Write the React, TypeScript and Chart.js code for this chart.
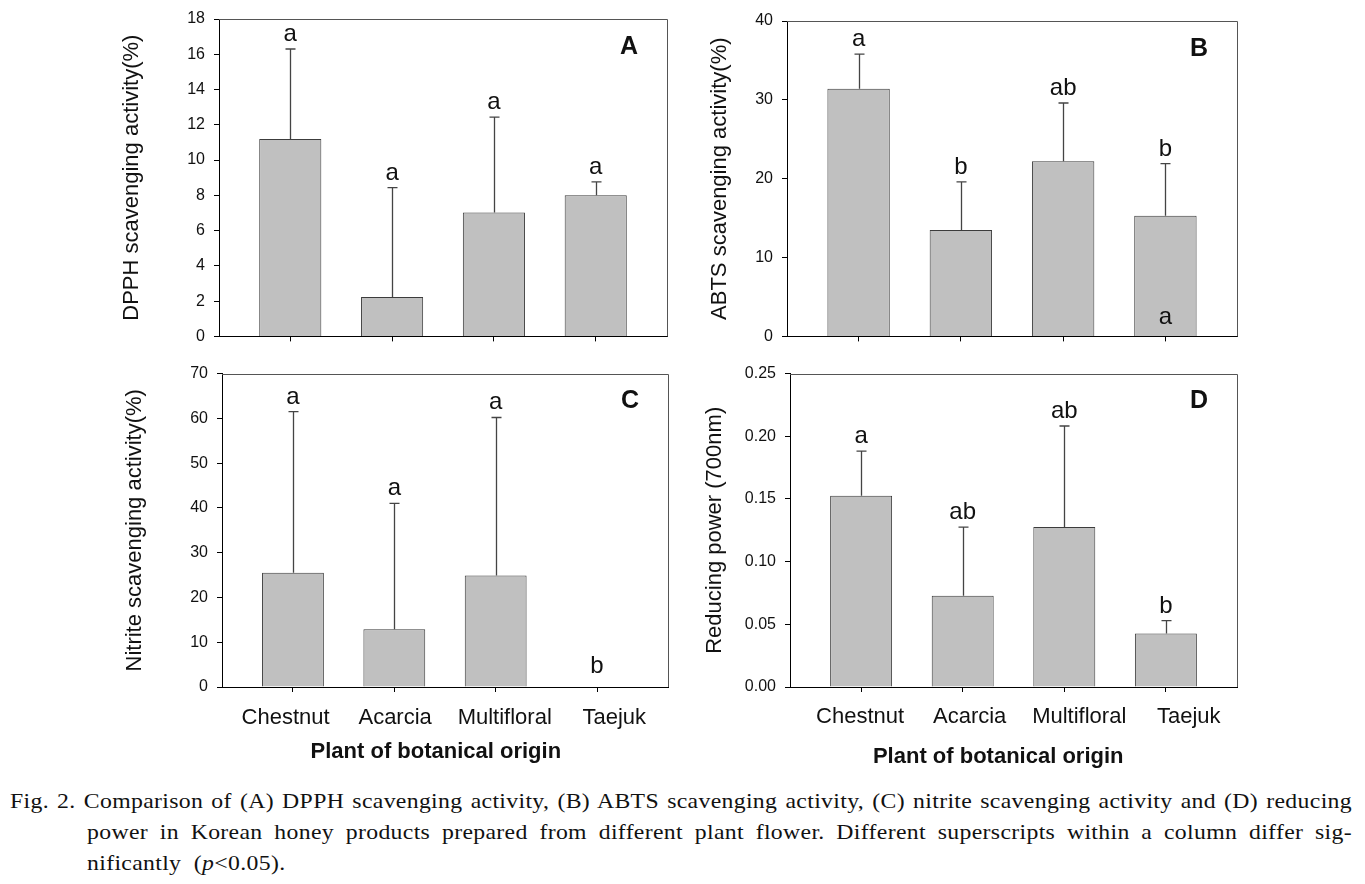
import React, { useEffect, useRef } from 'react';
import { Chart, registerables } from 'chart.js';

Chart.register(...registerables);
Chart.defaults.font.family = '"Liberation Sans", Arial, sans-serif';
Chart.defaults.color = '#111';

// ---------------- data ----------------
const categories = ['Chestnut', 'Acarcia', 'Multifloral', 'Taejuk'];

const dpphMean = [11.2, 2.24, 7.03, 8.0];
const dpphErr = [5.1, 6.2, 5.4, 0.76];
const dpphLetters = ['a', 'a', 'a', 'a'];

const abtsMean = [31.4, 13.5, 22.2, 15.3];
const abtsErr = [4.4, 6.1, 7.4, 6.6];
const abtsLetters = ['a', 'b', 'ab', 'b'];
const abtsInnerLetters = ['', '', '', 'a'];

const nitriteMean = [25.5, 12.9, 24.9, 0];
const nitriteErr = [36.0, 28.1, 35.3, 0];
const nitriteLetters = ['a', 'a', 'a', 'b'];

const reducingMean = [0.1526, 0.0728, 0.1276, 0.0426];
const reducingErr = [0.0356, 0.0548, 0.0806, 0.0104];
const reducingLetters = ['a', 'ab', 'ab', 'b'];

const dpphTicks = { max: 18, step: 2 };
const abtsTicks = { max: 40, step: 10 };
const nitriteTicks = { max: 70, step: 10 };
const reducingTicks = { max: 0.25, step: 0.05 };

const xTitle = 'Plant of botanical origin';

// ---------------- plugin ----------------
function makeDecor(means: number[], errs: number[], letters: string[], inner: string[] | null, panel: string) {
  return {
    id: 'decor_' + panel,
    beforeDatasetsDraw(chart: any) {
      const { ctx, chartArea: a } = chart;
      ctx.save();
      ctx.strokeStyle = '#555';
      ctx.lineWidth = 1;
      ctx.beginPath();
      ctx.moveTo(a.left, Math.round(a.top) + 0.5);
      ctx.lineTo(Math.round(a.right) + 0.5, Math.round(a.top) + 0.5);
      ctx.lineTo(Math.round(a.right) + 0.5, a.bottom);
      ctx.stroke();
      ctx.restore();
    },
    afterDatasetsDraw(chart: any) {
      const { ctx, chartArea: a } = chart;
      const y = chart.scales.y;
      const meta = chart.getDatasetMeta(0);
      ctx.save();
      meta.data.forEach((bar: any, i: number) => {
        const x = Math.round(bar.x) + 0.5;
        const top = y.getPixelForValue(means[i]);
        const cap = y.getPixelForValue(means[i] + errs[i]);
        if (errs[i] > 0) {
          ctx.strokeStyle = '#444';
          ctx.lineWidth = 1.3;
          ctx.beginPath();
          ctx.moveTo(x, top);
          ctx.lineTo(x, cap);
          ctx.moveTo(x - 5, cap);
          ctx.lineTo(x + 5, cap);
          ctx.stroke();
        }
        ctx.fillStyle = '#111';
        ctx.font = '24px "Liberation Sans", Arial, sans-serif';
        ctx.textAlign = 'center';
        ctx.textBaseline = 'alphabetic';
        const gap = errs[i] > 0 ? 8 : 14;
        ctx.fillText(letters[i], bar.x, cap - gap);
        if (inner && inner[i]) {
          ctx.fillText(inner[i], bar.x, y.getPixelForValue(0) - 12);
        }
      });
      ctx.font = 'bold 25px "Liberation Sans", Arial, sans-serif';
      ctx.textAlign = 'center';
      ctx.textBaseline = 'middle';
      ctx.fillText(panel, a.right - 38, a.top + 28);
      ctx.restore();
    },
  };
}

type PanelCfg = {
  panel: string;
  box: { left: number; top: number; width: number; height: number };
  pad: { left: number; top: number; right: number; bottom: number };
  yAxisW: number;
  tickAxisH: number;
  labelAxisH: number; // 0 => no labels
  labelPad: number;
  labelRange: { min: number; max: number };
  titleTrail: number;
  yTitle: string;
  means: number[];
  errs: number[];
  letters: string[];
  inner: string[] | null;
  yMax: number;
  yStep: number;
  decimals: number;
};

function Panel({ cfg }: { cfg: PanelCfg }) {
  const ref = useRef<HTMLCanvasElement>(null);
  useEffect(() => {
    const ticksAt = (s: any) => {
      s.ticks = categories.map((_, i) => ({ value: i + 1 }));
    };
    const scales: any = {
      x: {
        type: 'linear',
        position: 'bottom',
        min: 0.3,
        max: 4.7,
        offset: false,
        weight: 0,
        afterBuildTicks: ticksAt,
        afterFit: (s: any) => {
          s.height = cfg.tickAxisH;
        },
        grid: { display: true, offset: false, drawOnChartArea: false, drawTicks: true, tickLength: 5, color: '#000', lineWidth: 1 },
        border: { display: true, color: '#000', width: 1 },
        ticks: { display: false },
      },
      y: {
        type: 'linear',
        position: 'left',
        min: 0,
        max: cfg.yMax,
        afterFit: (s: any) => {
          s.width = cfg.yAxisW;
        },
        grid: { display: true, drawOnChartArea: false, drawTicks: true, tickLength: 5, color: '#000' },
        border: { display: true, color: '#000', width: 1 },
        ticks: {
          stepSize: cfg.yStep,
          padding: 9,
          color: '#111',
          font: { size: 16 },
          callback: (v: any) => Number(v).toFixed(cfg.decimals),
        },
        title: {
          display: true,
          text: cfg.yTitle,
          color: '#111',
          font: { size: 22, lineHeight: 1.2 },
          padding: { top: 0, bottom: 0 },
        },
      },
    };
    if (cfg.labelAxisH > 0) {
      scales.xl = {
        type: 'linear',
        position: 'bottom',
        min: cfg.labelRange.min,
        max: cfg.labelRange.max,
        offset: false,
        weight: 1,
        afterBuildTicks: ticksAt,
        afterFit: (s: any) => {
          s.height = cfg.labelAxisH;
        },
        grid: { display: false, offset: false, drawTicks: false, drawOnChartArea: false },
        border: { display: false },
        ticks: {
          display: true,
          autoSkip: false,
          maxRotation: 0,
          padding: cfg.labelPad,
          color: '#111',
          font: { size: 22 },
          callback: (v: any) => categories[Math.round(v) - 1] ?? '',
        },
        title: {
          display: true,
          text: xTitle + '\u00a0'.repeat(cfg.titleTrail),
          color: '#111',
          font: { size: 22, weight: 'bold', lineHeight: 1.2 },
          padding: { top: 0, bottom: 0 },
        },
      };
    }
    const chart = new Chart(ref.current as HTMLCanvasElement, {
      type: 'bar',
      data: {
        datasets: [
          {
            data: cfg.means.map((m, i) => ({ x: i + 1, y: m })),
            backgroundColor: '#c0c0c0',
            borderColor: '#3c3c3c',
            borderWidth: 1,
            categoryPercentage: 1,
            barPercentage: 0.61,
          } as any,
        ],
      },
      options: {
        responsive: false,
        animation: false,
        layout: { padding: cfg.pad },
        plugins: { legend: { display: false }, tooltip: { enabled: false } },
        scales,
      },
      plugins: [makeDecor(cfg.means, cfg.errs, cfg.letters, cfg.inner, cfg.panel)],
    });
    return () => chart.destroy();
  }, []);
  const b = cfg.box;
  return (
    <div style={{ position: 'absolute', left: b.left, top: b.top, width: b.width, height: b.height }}>
      <canvas ref={ref} width={b.width} height={b.height} style={{ display: 'block' }} />
    </div>
  );
}

const panels: PanelCfg[] = [
  {
    panel: 'A',
    box: { left: 0, top: 0, width: 683, height: 355 },
    pad: { left: 119, top: 19, right: 16, bottom: 0 },
    yAxisW: 100,
    tickAxisH: 16,
    labelAxisH: 0,
    labelPad: 0,
    labelRange: { min: 0, max: 1 },
    titleTrail: 0,
    yTitle: 'DPPH scavenging activity(%)',
    means: dpphMean,
    errs: dpphErr,
    letters: dpphLetters,
    inner: null,
    yMax: dpphTicks.max,
    yStep: dpphTicks.step,
    decimals: 0,
  },
  {
    panel: 'B',
    box: { left: 683, top: 0, width: 682, height: 355 },
    pad: { left: 24, top: 21, right: 128, bottom: 0 },
    yAxisW: 80,
    tickAxisH: 14,
    labelAxisH: 0,
    labelPad: 0,
    labelRange: { min: 0, max: 1 },
    titleTrail: 0,
    yTitle: 'ABTS scavenging activity(%)',
    means: abtsMean,
    errs: abtsErr,
    letters: abtsLetters,
    inner: abtsInnerLetters,
    yMax: abtsTicks.max,
    yStep: abtsTicks.step,
    decimals: 0,
  },
  {
    panel: 'C',
    box: { left: 0, top: 355, width: 683, height: 420 },
    pad: { left: 122, top: 12, right: 15, bottom: 10 },
    yAxisW: 100,
    tickAxisH: 5,
    labelAxisH: 73,
    labelPad: 13,
    labelRange: { min: 0.42, max: 4.49 },
    titleTrail: 3,
    yTitle: 'Nitrite scavenging activity(%)',
    means: nitriteMean,
    errs: nitriteErr,
    letters: nitriteLetters,
    inner: null,
    yMax: nitriteTicks.max,
    yStep: nitriteTicks.step,
    decimals: 0,
  },
  {
    panel: 'D',
    box: { left: 683, top: 355, width: 682, height: 420 },
    pad: { left: 19, top: 12, right: 128, bottom: 5 },
    yAxisW: 88,
    tickAxisH: 5,
    labelAxisH: 78,
    labelPad: 12,
    labelRange: { min: 0.36, max: 4.44 },
    titleTrail: 5,
    yTitle: 'Reducing power (700nm)',
    means: reducingMean,
    errs: reducingErr,
    letters: reducingLetters,
    inner: null,
    yMax: reducingTicks.max,
    yStep: reducingTicks.step,
    decimals: 2,
  },
];

const captionFont = '21px "Liberation Serif", "Times New Roman", serif';
const captionStretch = 1.13;

export default function App() {
  return (
    <div
      style={{
        position: 'absolute',
        left: 0,
        top: 0,
        width: 1365,
        height: 884,
        background: '#fff',
        overflow: 'hidden',
      }}
    >
      {panels.map((p) => (
        <Panel key={p.panel} cfg={p} />
      ))}
      <div
        style={{
          position: 'absolute',
          left: 10,
          top: 786,
          width: 1342 / captionStretch,
          font: captionFont,
          lineHeight: '31px',
          color: '#111',
          letterSpacing: '0.3px',
          transform: `scaleX(${captionStretch})`,
          transformOrigin: '0 0',
        }}
      >
        <div style={{ textAlign: 'justify', textAlignLast: 'justify' as any }}>
          Fig. 2. Comparison of (A) DPPH scavenging activity, (B) ABTS scavenging activity, (C) nitrite scavenging activity and (D) reducing
        </div>
        <div style={{ marginLeft: 77 / captionStretch, textAlign: 'justify', textAlignLast: 'justify' as any }}>
          power in Korean honey products prepared from different plant flower. Different superscripts within a column differ sig-
        </div>
        <div style={{ marginLeft: 77 / captionStretch }}>
          nificantly &nbsp;(<i>p</i>&lt;0.05).
        </div>
      </div>
    </div>
  );
}
